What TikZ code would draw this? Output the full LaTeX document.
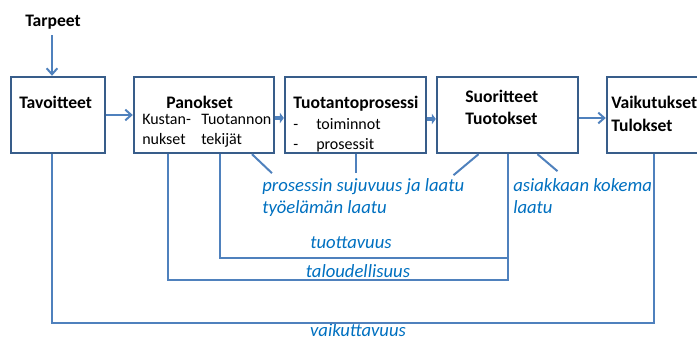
\documentclass[tikz,border=0pt]{standalone}
\usepackage{fontspec}
\setmainfont{Carlito}
\usetikzlibrary{calc,arrows.meta}
\definecolor{boxblue}{HTML}{385D8A}
\definecolor{lineblue}{HTML}{4F81BD}
\definecolor{textblue}{HTML}{0070C0}
\begin{document}
\begin{tikzpicture}[x=0.75pt, y=-0.75pt,
    box/.style={draw=boxblue, line width=1.8pt, fill=white, inner sep=0pt, minimum height=57pt},
    link/.style={lineblue, line width=1.5pt},
    arr/.style={link, -{Straight Barb[length=4.5pt,width=8pt]}},
    fat/.style={lineblue, line width=3.5pt, -{Triangle[length=3pt,width=8pt]}},
    head/.style={font=\fontsize{13.2}{16.5}\selectfont\bfseries, inner sep=0pt},
    sub/.style={font=\fontsize{12}{15}\selectfont, inner sep=0pt},
    measure/.style={textblue, font=\fontsize{14}{16.5}\selectfont\itshape, inner sep=0pt}]
    \useasboundingbox (0,0) rectangle (697,341);
    \clip (0,0) rectangle (697,341);

    \node[box, minimum width=70.5pt] (tav) at (58,115) {};
    \node[box, minimum width=105pt] (pan) at (204,115) {};
    \node[box, minimum width=105.75pt] (tuo) at (355.5,115) {};
    \node[box, minimum width=105.75pt] (suo) at (507.5,115) {};
    \node[box, minimum width=69.75pt] (vai) at (653.5,115) {};

    \node[head, anchor=base] (tarpeet) at (53,27) {Tarpeet};
    \node[head, anchor=base west] at (19,109) {Tavoitteet};
    \node[head, anchor=base west] at (166,109) {Panokset};
    \node[sub, anchor=base west] at (142,125) {Kustan-};
    \node[sub, anchor=base west] at (142,145) {nukset};
    \node[sub, anchor=base west] at (201,125) {Tuotannon};
    \node[sub, anchor=base west] at (201,145) {tekijät};
    \node[head, anchor=base west] at (293,109) {Tuotantoprosessi};
    \node[sub, anchor=base west] at (293,130) {-};
    \node[sub, anchor=base west] at (316,130) {toiminnot};
    \node[sub, anchor=base west] at (293,150) {-};
    \node[sub, anchor=base west] at (316,150) {prosessit};
    \node[head, anchor=base west] at (465,103) {Suoritteet};
    \node[head, anchor=base west] at (465,125) {Tuotokset};
    \node[head, anchor=base west] at (611,109) {Vaikutukset};
    \node[head, anchor=base west] at (611,132) {Tulokset};

    \node[measure, anchor=base west] (sujuvuus) at (262,192) {prosessin sujuvuus ja laatu};
    \node[measure, anchor=base west] (tyoelama) at (262,214) {työelämän laatu};
    \node[measure, anchor=base west] (asiakas) at (513,192) {asiakkaan kokema};
    \node[measure, anchor=base west] at (513,214) {laatu};
    \node[measure, anchor=base] (tuottavuus) at (351,249) {tuottavuus};
    \node[measure, anchor=base] (talous) at (358,278) {taloudellisuus};
    \node[measure, anchor=base] (vaikutus) at (358,337) {vaikuttavuus};

    \coordinate (tarpfoot) at ($(tarpeet.south)+(-1,5)$);
    \coordinate (tuotlevel) at (0,258);
    \coordinate (talolevel) at (0,280);
    \coordinate (vaiklevel) at (0,323);

    \draw[arr] (tarpfoot) -- (tarpfoot |- tav.north);
    \draw[arr] (tav.east) -- (pan.west);
    \draw[fat] ([yshift=-2.25pt]pan.east) -- ([yshift=-2.25pt]tuo.west);
    \draw[fat] ([yshift=-3pt]tuo.east) -- ([yshift=-3pt]suo.west);
    \draw[arr] ([yshift=-2.25pt]suo.east) -- ([yshift=-2.25pt]vai.west);

    \draw[link] ($(pan.south)+(48,0)$) -- ($(pan.south)+(68,19)$);
    \draw[link] ($(tuo.south)+(0.5,0)$) -- ($(tuo.south)+(0.5,19)$);
    \draw[link] ($(suo.south)+(-29,0)$) -- ($(suo.south)+(-54,21)$);
    \draw[link] ($(suo.south)+(30,0)$) -- ($(suo.south)+(50,17)$);

    \draw[link] ($(pan.south)+(16,0)$) |- (suo.south |- tuotlevel);
    \draw[link] ($(pan.south)+(-36,0)$) |- (suo.south |- talolevel) -- (suo.south);
    \draw[link] ($(tav.south)+(-6,0)$) |- (vai.south |- vaiklevel) -- (vai.south);
\end{tikzpicture}
\end{document}
